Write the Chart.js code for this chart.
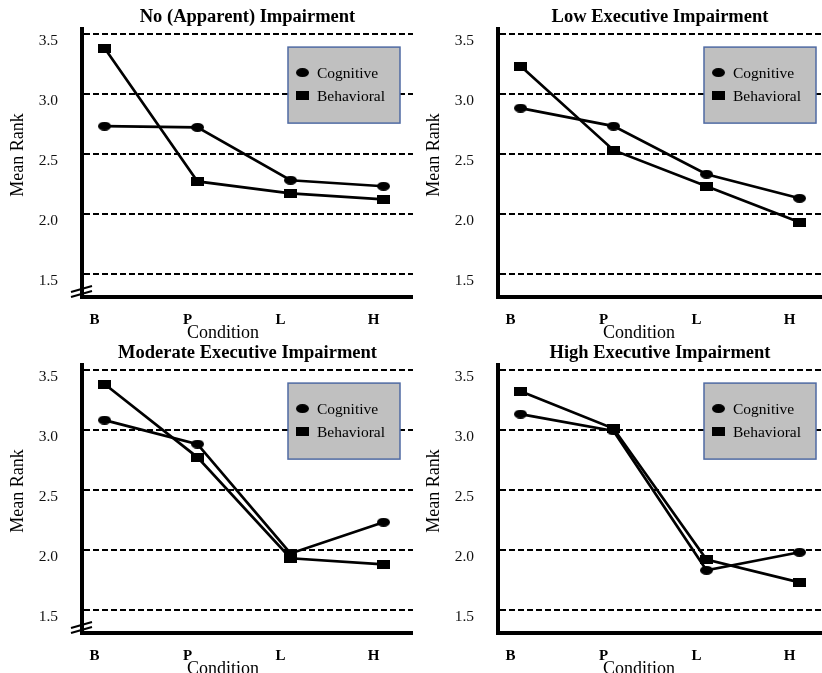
<!DOCTYPE html>
<html><head><meta charset="utf-8">
<script src="https://cdn.jsdelivr.net/npm/chart.js@4.4.1/dist/chart.umd.min.js"></script>
<style>
html,body{margin:0;padding:0;background:#fff;width:822px;height:673px;overflow:hidden;}
.p{position:absolute;}
canvas{display:block;}
</style></head><body>
<div class="p" style="left:0;top:0;"><canvas id="c1" width="413" height="345"></canvas></div>
<div class="p" style="left:416px;top:0;"><canvas id="c2" width="406" height="345"></canvas></div>
<div class="p" style="left:0;top:336px;"><canvas id="c3" width="413" height="337"></canvas></div>
<div class="p" style="left:416px;top:336px;"><canvas id="c4" width="406" height="337"></canvas></div>
<script>
// ---- data ----
const categories = ['B', 'P', 'L', 'H'];
const yTicks = [1.5, 2.0, 2.5, 3.0, 3.5];
const seriesNames = ['Cognitive', 'Behavioral'];
const panelTitles = ['No (Apparent) Impairment', 'Low Executive Impairment', 'Moderate Executive Impairment', 'High Executive Impairment'];
const noImpCognitive = [2.73, 2.72, 2.28, 2.23];
const noImpBehavioral = [3.38, 2.27, 2.17, 2.12];
const lowCognitive = [2.88, 2.73, 2.33, 2.13];
const lowBehavioral = [3.23, 2.53, 2.23, 1.93];
const modCognitive = [3.08, 2.88, 1.97, 2.23];
const modBehavioral = [3.38, 2.77, 1.93, 1.88];
const highCognitive = [3.13, 2.99, 1.83, 1.98];
const highBehavioral = [3.32, 3.01, 1.92, 1.73];

const SERIF = '"Liberation Serif", "Times New Roman", Times, serif';

function markerCanvas(kind) {
  const c = document.createElement('canvas');
  c.width = 13; c.height = 9;
  const g = c.getContext('2d');
  g.fillStyle = '#000';
  if (kind === 'ellipse') {
    g.beginPath(); g.ellipse(6.5, 4.5, 6.5, 4.5, 0, 0, Math.PI * 2); g.fill();
  } else {
    g.fillRect(0, 0, 13, 9);
  }
  return c;
}
const ellipseMark = markerCanvas('ellipse');
const squareMark = markerCanvas('square');

const decor = {
  id: 'decor',
  afterDatasetsDraw(chart) {
    const ctx = chart.ctx, a = chart.chartArea;
    const o = chart.options.plugins.decor;
    ctx.save();
    // legend box
    const bx = a.left + 206, by = a.top + 18.5, bw = 112, bh = 76;
    ctx.fillStyle = '#c0c0c0';
    ctx.fillRect(bx, by, bw, bh);
    ctx.strokeStyle = '#4f6aa3';
    ctx.lineWidth = 1.5;
    ctx.strokeRect(bx, by, bw, bh);
    const marks = [ellipseMark, squareMark];
    ctx.font = '15.5px ' + SERIF;
    ctx.fillStyle = '#000';
    ctx.textBaseline = 'middle';
    ctx.textAlign = 'left';
    chart.data.datasets.forEach((ds, i) => {
      const my = by + 25.5 + i * 23;
      ctx.drawImage(marks[i], bx + 14.5 - 6.5, my - 4.5);
      ctx.fillText(ds.label, bx + 29, my + 1.5);
    });
    // axis titles
    ctx.font = '18px ' + SERIF;
    ctx.textAlign = 'center';
    ctx.fillText('Condition', a.left + 141, a.bottom + 36);
    ctx.save();
    ctx.translate(a.left - 63.5, a.top + 126.5);
    ctx.rotate(-Math.PI / 2);
    ctx.fillText('Mean Rank', 0, 0);
    ctx.restore();
    // axis break
    if (o.brk) {
      ctx.strokeStyle = '#000';
      ctx.lineWidth = 2;
      ctx.beginPath();
      ctx.moveTo(a.left - 11, a.bottom); ctx.lineTo(a.left + 10, a.bottom - 6);
      ctx.moveTo(a.left - 11, a.bottom - 5); ctx.lineTo(a.left + 10, a.bottom - 11);
      ctx.stroke();
    }
    ctx.restore();
  }
};

function makePanel(id, title, cog, beh, brk) {
  const cv = document.getElementById(id);
  const xMin = -0.242;
  const xMax = xMin + (cv.width - 82) / 93;
  return new Chart(cv, {
    type: 'line',
    data: {
      datasets: [
        { label: seriesNames[0], data: cog.map((v, i) => ({ x: i, y: v })), borderColor: '#000', borderWidth: 2.7,
          pointStyle: ellipseMark, pointRadius: 6, fill: false, tension: 0, clip: false },
        { label: seriesNames[1], data: beh.map((v, i) => ({ x: i, y: v })), borderColor: '#000', borderWidth: 2.7,
          pointStyle: squareMark, pointRadius: 6, fill: false, tension: 0, clip: false }
      ]
    },
    options: {
      responsive: false, animation: false, devicePixelRatio: 1,
      layout: { padding: 0, autoPadding: false },
      plugins: {
        legend: { display: false }, tooltip: { enabled: false },
        title: { display: true, text: title, fullSize: false, color: '#000',
          font: { family: SERIF, size: 18.5, weight: 'bold' }, padding: { top: 6.4, bottom: 0 } },
        decor: { brk: brk }
      },
      scales: {
        x: {
          type: 'linear', min: xMin, max: xMax,
          afterBuildTicks: s => { s.ticks = categories.map((c, i) => ({ value: i })); },
          ticks: { callback: v => categories[v], labelOffset: -10, padding: 14, color: '#000',
            font: { family: SERIF, size: 15, weight: 'bold' }, autoSkip: false, maxRotation: 0 },
          grid: { display: false, drawTicks: false },
          border: { display: true, color: '#000', width: 4 },
          afterFit: s => { s.height = s.chart.height - 297; s.paddingLeft = 0; s.paddingRight = 0; }
        },
        y: {
          min: 1.3083, max: 3.5417,
          afterBuildTicks: s => { s.ticks = yTicks.map(v => ({ value: v })); },
          ticks: { callback: v => Number(v).toFixed(1), labelOffset: 7, padding: 24, color: '#111',
            font: { family: SERIF, size: 15.5 } },
          grid: { color: '#000', lineWidth: 2, drawTicks: false },
          border: { display: true, color: '#000', width: 4, dash: [6, 3] },
          afterFit: s => { s.width = 82; s.paddingTop = 0; s.paddingBottom = 0; }
        }
      }
    },
    plugins: [decor]
  });
}

makePanel('c1', panelTitles[0], noImpCognitive, noImpBehavioral, true);
makePanel('c2', panelTitles[1], lowCognitive, lowBehavioral, false);
makePanel('c3', panelTitles[2], modCognitive, modBehavioral, true);
makePanel('c4', panelTitles[3], highCognitive, highBehavioral, false);
</script>
</body></html>
